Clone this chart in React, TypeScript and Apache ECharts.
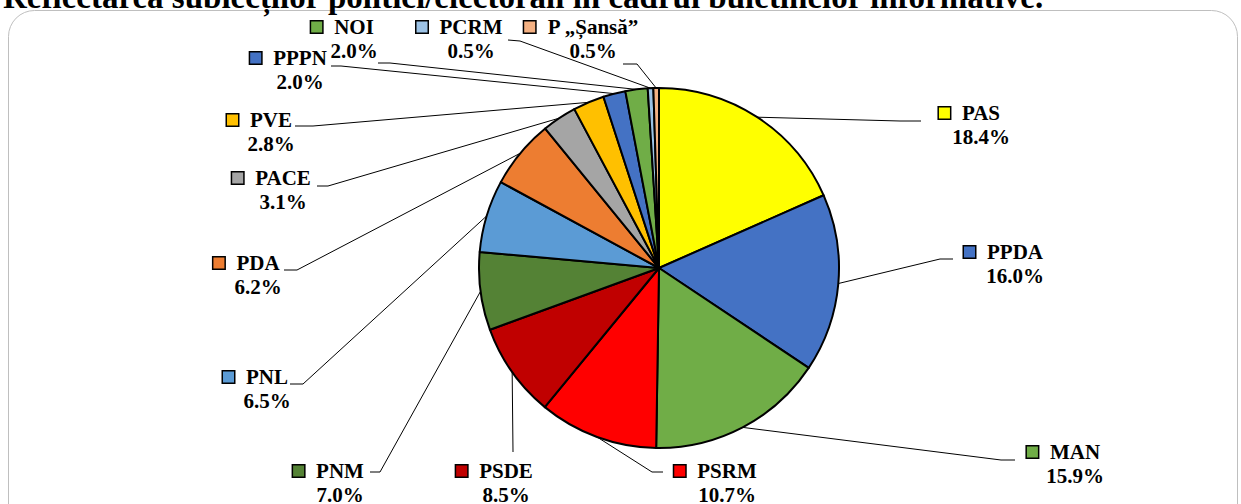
import React, { useEffect, useRef } from "react";
import * as echarts from "echarts";

const titleText = "Reflectarea subiecților politici/electorali în cadrul buletinelor informative.";

const parties = ["PAS", "PPDA", "MAN", "PSRM", "PSDE", "PNM", "PNL", "PDA", "PACE", "PVE", "PPPN", "NOI", "PCRM", "P „Șansă”"];
const shares = [18.4, 16.0, 15.9, 10.7, 8.5, 7.0, 6.5, 6.2, 3.1, 2.8, 2.0, 2.0, 0.5, 0.5];
const colors = ["#FFFF00", "#4472C4", "#70AD47", "#FF0000", "#C00000", "#548235", "#5B9BD5", "#ED7D31", "#A5A5A5", "#FFC000", "#4472C4", "#70AD47", "#9DC3E6", "#F4B183"];

// label placement: [textCenterX, firstLineCenterY, elbowX, elbowY, endX, endY]
const labelPlacement = [
  [981, 113, 900, 121, 921, 121],
  [1015, 252, 940, 259, 953, 259],
  [1075, 452, 1001, 460, 1015, 460],
  [727, 471, 652, 472, 663, 472],
  [506, 471, 513, 452, 513, 452],
  [340, 471, 380, 472, 370, 472],
  [267, 377, 303, 384, 290, 384],
  [258, 263, 297, 270, 284, 270],
  [283, 178, 328, 186, 317, 186],
  [271, 120, 313, 126, 295, 126],
  [300, 58, 341, 66, 331, 66],
  [354, 27, 390, 63, 378, 63],
  [471, 27, 520, 41, 508, 40],
  [593, 27, 637, 64, 623, 64],
];

const FONT = "Liberation Serif";
const LINE_H = 24;

export default function App() {
  const ref = useRef<HTMLDivElement>(null);
  useEffect(() => {
    if (!ref.current) return;
    const chart = echarts.init(ref.current, null, { renderer: "svg" });
    const textTok = { fontFamily: FONT, fontWeight: "bold", fontSize: 21, color: "#000", lineHeight: LINE_H };
    const rich: any = {
      n: { ...textTok },
      v: { ...textTok },
      g: { ...textTok, width: 12 },
      s: { ...textTok, width: 23 },
    };
    colors.forEach((c, i) => {
      rich["m" + i] = {
        width: 11,
        height: 11,
        backgroundColor: c,
        borderColor: "#000",
        borderWidth: 1.5,
        fontFamily: FONT,
        fontSize: 8,
      };
    });
    const option: any = {
      animation: false,
      backgroundColor: "#fff",
      textStyle: { fontFamily: FONT },
      graphic: [
        {
          type: "rect",
          shape: { x: 8.5, y: 10.5, width: 1229, height: 560, r: 26 },
          style: { fill: "none", stroke: "#BFBFBF", lineWidth: 1 },
          z: -10,
        },
        {
          type: "text",
          x: 3,
          y: -3,
          style: {
            text: titleText,
            fontFamily: FONT,
            fontWeight: "bold",
            fontSize: 33,
            fill: "#000",
            align: "left",
            verticalAlign: "middle",
          },
        },
      ],
      series: [
        {
          type: "pie",
          center: [659, 268],
          radius: 180,
          startAngle: 90,
          clockwise: true,
          avoidLabelOverlap: false,
          emphasis: { disabled: true },
          itemStyle: { borderColor: "#000", borderWidth: 2 },
          data: parties.map((n, i) => ({ name: n, value: shares[i], itemStyle: { color: colors[i] } })),
          label: {
            show: true,
            position: "outside",
            fontFamily: FONT,
            fontWeight: "bold",
            fontSize: 21,
            color: "#000",
            lineHeight: LINE_H,
            formatter: (p: any) =>
              `{m${p.dataIndex}| }{g| }{n|${p.name}}{s| }\n{v|${Number(p.value).toFixed(1)}%}`,
            rich,
          },
          labelLine: { show: true, length: 10, length2: 10, smooth: false, lineStyle: { color: "#000", width: 1 } },
          labelLayout: (params: any) => {
            const pl = labelPlacement[params.dataIndex];
            const start = params.labelLinePoints && params.labelLinePoints[0];
            const res: any = {
              x: pl[0],
              y: pl[1] + LINE_H / 2,
              align: "center",
              verticalAlign: "middle",
            };
            if (start) res.labelLinePoints = [start, [pl[2], pl[3]], [pl[4], pl[5]]];
            return res;
          },
        },
      ],
    };
    chart.setOption(option);
    return () => chart.dispose();
  }, []);
  return (
    <div
      ref={ref}
      style={{ position: "absolute", left: 0, top: 0, width: 1241, height: 504, background: "#fff" }}
    />
  );
}
